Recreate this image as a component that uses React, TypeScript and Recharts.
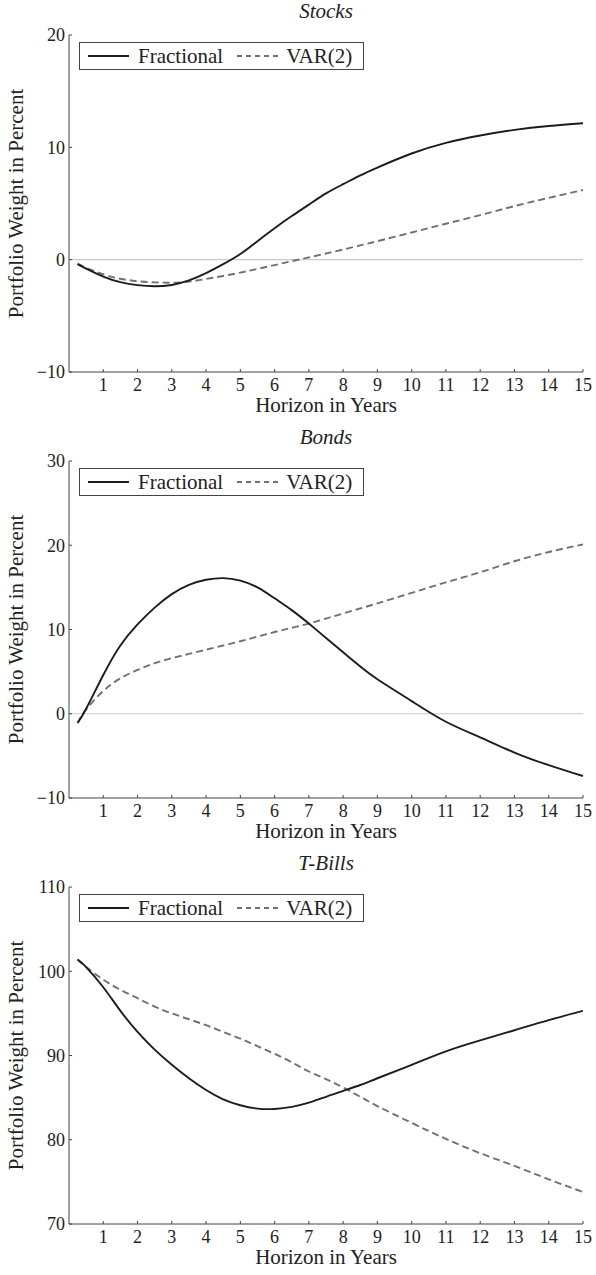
import {
  Legend,
  Line,
  LineChart,
  ReferenceLine,
  XAxis,
  YAxis,
} from 'recharts'

// horizon grid (years) shared by all three panels
const years = [
  0.25, 0.5, 1, 1.5, 2, 2.5, 3, 3.5, 4, 4.5, 5, 5.5, 6, 6.5, 7, 7.5, 8, 8.5, 9,
  10, 11, 12, 13, 14, 15,
]

const stocksFractional = [
  -0.4, -0.8, -1.5, -2.0, -2.27, -2.37, -2.25, -1.85, -1.2, -0.4, 0.5, 1.65,
  2.8, 3.88, 4.9, 5.9, 6.72, 7.5, 8.2, 9.45, 10.4, 11.05, 11.55, 11.9, 12.15,
]
const stocksVar = [
  -0.35, -0.72, -1.3, -1.7, -1.92, -2.02, -2.05, -1.95, -1.72, -1.45, -1.15,
  -0.82, -0.48, -0.13, 0.2, 0.55, 0.9, 1.27, 1.65, 2.42, 3.2, 3.97, 4.77, 5.5,
  6.2,
]

const bondsFractional = [
  -1.1, 0.6, 4.6, 8.1, 10.6, 12.6, 14.2, 15.3, 15.9, 16.1, 15.8, 15.0, 13.7,
  12.3, 10.7, 9.0, 7.3, 5.6, 4.1, 1.5, -0.95, -2.8, -4.6, -6.1, -7.4,
]
const bondsVar = [
  -1.1, 0.5, 2.7, 4.2, 5.2, 6.0, 6.6, 7.1, 7.6, 8.1, 8.6, 9.15, 9.7, 10.2, 10.7,
  11.3, 11.9, 12.5, 13.1, 14.35, 15.6, 16.8, 18.1, 19.2, 20.1,
]

const billsFractional = [
  101.4, 100.5, 98.1, 95.3, 92.8, 90.7, 88.9, 87.3, 85.9, 84.8, 84.1, 83.7,
  83.65, 83.9, 84.4, 85.1, 85.8, 86.5, 87.3, 88.9, 90.5, 91.8, 93.0, 94.2,
  95.3,
]
const billsVar = [
  101.4, 100.5, 99.0, 97.8, 96.8, 95.8, 95.0, 94.3, 93.6, 92.8, 92.0, 91.1,
  90.2, 89.2, 88.1, 87.2, 86.2, 85.1, 84.0, 82.0, 80.1, 78.4, 76.9, 75.3, 73.8,
]

const xTicks = [1, 2, 3, 4, 5, 6, 7, 8, 9, 10, 11, 12, 13, 14, 15]
const stocksTicks = [-10, 0, 10, 20]
const bondsTicks = [-10, 0, 10, 20, 30]
const billsTicks = [70, 80, 90, 100, 110]

const FONT = 'Liberation Serif'
const INK = '#222'
const AXIS = '#444'
const SOLID = '#1c1c1c'
const DASHED = '#707070'

// use a real minus sign on the y ticks
const fmtTick = (v: number) => String(v).replace('-', '\u2212')

function LegendBox() {
  return (
    <div
      style={{
        width: 283,
        height: 26,
        border: `1px solid ${AXIS}`,
        background: '#fff',
        display: 'flex',
        alignItems: 'center',
        fontFamily: FONT,
        fontSize: 21,
        color: INK,
        boxSizing: 'content-box',
      }}
    >
      <svg width={41} height={6} style={{ marginLeft: 8 }}>
        <line x1={0} y1={3} x2={41} y2={3} stroke={SOLID} strokeWidth={1.8} />
      </svg>
      <span style={{ marginLeft: 9, lineHeight: '26px' }}>Fractional</span>
      <svg width={42} height={6} style={{ marginLeft: 14 }}>
        <line
          x1={0}
          y1={3}
          x2={42}
          y2={3}
          stroke={DASHED}
          strokeWidth={1.8}
          strokeDasharray="5 4"
        />
      </svg>
      <span style={{ marginLeft: 7, lineHeight: '26px' }}>VAR(2)</span>
    </div>
  )
}

type PanelProps = {
  title: string
  frac: number[]
  var2: number[]
  yTicks: number[]
  zero: boolean
}

function Panel({ title, frac, var2, yTicks, zero }: PanelProps) {
  const rows = years.map((y, i) => ({ year: y, frac: frac[i], var2: var2[i] }))
  const lo = yTicks[0]
  const hi = yTicks[yTicks.length - 1]
  return (
    <div style={{ position: 'relative', width: 596, height: 426 }}>
      <div
        style={{
          position: 'absolute',
          top: 0,
          left: 69,
          width: 514,
          textAlign: 'center',
          fontFamily: FONT,
          fontStyle: 'italic',
          fontSize: 21,
          lineHeight: '22px',
          color: INK,
        }}
      >
        {title}
      </div>
      <LineChart
        width={596}
        height={426}
        data={rows}
        margin={{ top: 35, right: 13, bottom: 0, left: 0 }}
        style={{ fontFamily: FONT }}
      >
        <XAxis
          dataKey="year"
          type="number"
          domain={[0, 15]}
          ticks={xTicks}
          allowDataOverflow
          height={54}
          stroke={AXIS}
          tickSize={-3}
          tickMargin={9}
          tick={{ fill: INK, fontFamily: FONT, fontSize: 18 }}
          label={{
            value: 'Horizon in Years',
            position: 'center',
            dy: 6,
            fill: INK,
            fontFamily: FONT,
            fontSize: 21,
          }}
        />
        <YAxis
          type="number"
          domain={[lo, hi]}
          ticks={yTicks}
          allowDataOverflow
          width={69}
          stroke={AXIS}
          tickSize={-3}
          tickMargin={7}
          tickFormatter={fmtTick}
          tick={{ fill: INK, fontFamily: FONT, fontSize: 18 }}
          label={{
            value: 'Portfolio Weight in Percent',
            angle: -90,
            position: 'center',
            dx: -19,
            fill: INK,
            fontFamily: FONT,
            fontSize: 21,
          }}
        />
        {zero && <ReferenceLine y={0} stroke="#c9c9c9" strokeWidth={1.2} />}
        <Legend
          layout="horizontal"
          verticalAlign="middle"
          align="center"
          wrapperStyle={{ top: 42, left: 79, width: 'auto' }}
          content={() => <LegendBox />}
        />
        <Line
          type="natural"
          dataKey="var2"
          stroke={DASHED}
          strokeWidth={1.9}
          strokeDasharray="7 4"
          dot={false}
          isAnimationActive={false}
        />
        <Line
          type="natural"
          dataKey="frac"
          stroke={SOLID}
          strokeWidth={1.9}
          dot={false}
          isAnimationActive={false}
        />
      </LineChart>
    </div>
  )
}

export default function App() {
  return (
    <div
      style={{
        position: 'absolute',
        top: 0,
        left: 0,
        width: 596,
        height: 1275,
        background: '#fff',
      }}
    >
      <Panel
        title="Stocks"
        frac={stocksFractional}
        var2={stocksVar}
        yTicks={stocksTicks}
        zero
      />
      <Panel
        title="Bonds"
        frac={bondsFractional}
        var2={bondsVar}
        yTicks={bondsTicks}
        zero
      />
      <Panel
        title="T-Bills"
        frac={billsFractional}
        var2={billsVar}
        yTicks={billsTicks}
        zero={false}
      />
    </div>
  )
}
